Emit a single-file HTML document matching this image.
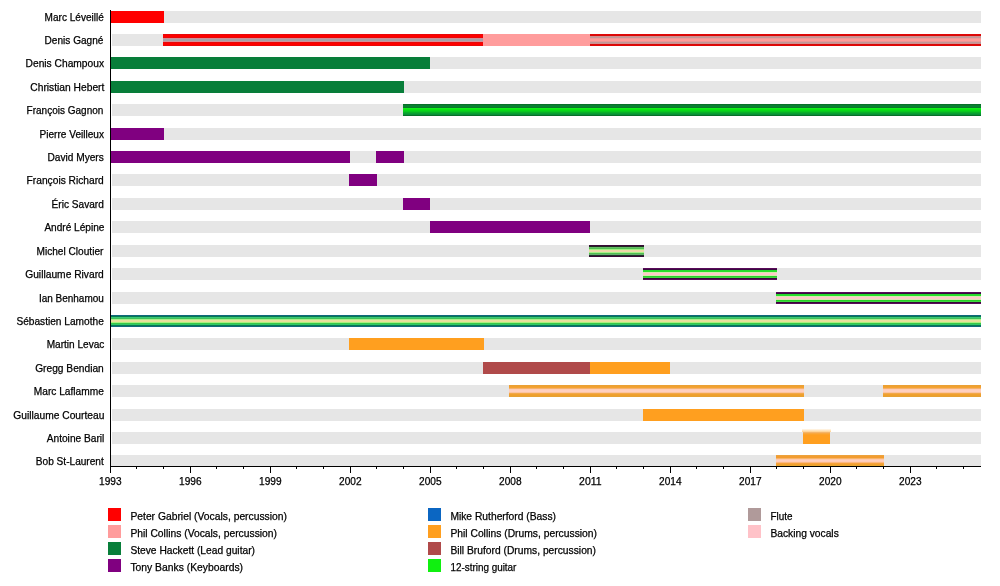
<!DOCTYPE html>
<html><head><meta charset="utf-8"><title>Timeline</title>
<style>
html,body{margin:0;padding:0;background:#fff}
svg{display:block}
text{font-family:"Liberation Sans",sans-serif;font-size:10.5px;fill:#000;stroke:#000;stroke-width:0.25px}
</style></head><body>
<svg width="1000" height="586" viewBox="0 0 1000 586">
<defs><linearGradient id="h19" x1="0" y1="0" x2="0" y2="1"><stop offset="0" stop-color="#fff"/><stop offset="1" stop-color="#ffd08c"/></linearGradient><linearGradient id="g5" x1="0" y1="0" x2="0" y2="1"><stop offset="0" stop-color="#10f010"/><stop offset="0.5" stop-color="#10e818"/><stop offset="1" stop-color="#0a9a34"/></linearGradient></defs>
<rect width="1000" height="586" fill="#fff"/>
<g shape-rendering="crispEdges">
<rect x="112" y="11" width="869" height="12" fill="#e6e6e6"/>
<rect x="112" y="34" width="869" height="12" fill="#e6e6e6"/>
<rect x="112" y="57" width="869" height="12" fill="#e6e6e6"/>
<rect x="112" y="81" width="869" height="12" fill="#e6e6e6"/>
<rect x="112" y="104" width="869" height="12" fill="#e6e6e6"/>
<rect x="112" y="128" width="869" height="12" fill="#e6e6e6"/>
<rect x="112" y="151" width="869" height="12" fill="#e6e6e6"/>
<rect x="112" y="174" width="869" height="12" fill="#e6e6e6"/>
<rect x="112" y="198" width="869" height="12" fill="#e6e6e6"/>
<rect x="112" y="221" width="869" height="12" fill="#e6e6e6"/>
<rect x="112" y="245" width="869" height="12" fill="#e6e6e6"/>
<rect x="112" y="268" width="869" height="12" fill="#e6e6e6"/>
<rect x="112" y="292" width="869" height="12" fill="#e6e6e6"/>
<rect x="112" y="315" width="869" height="12" fill="#e6e6e6"/>
<rect x="112" y="338" width="869" height="12" fill="#e6e6e6"/>
<rect x="112" y="362" width="869" height="12" fill="#e6e6e6"/>
<rect x="112" y="385" width="869" height="12" fill="#e6e6e6"/>
<rect x="112" y="409" width="869" height="12" fill="#e6e6e6"/>
<rect x="112" y="432" width="869" height="12" fill="#e6e6e6"/>
<rect x="111" y="455" width="870" height="11" fill="#e6e6e6"/>
</g><g>
<rect x="110" y="11.0" width="54" height="12" fill="#ff0000"/>
<g shape-rendering="crispEdges">
<rect x="163" y="34" width="320" height="1" fill="#e80808"/>
<rect x="163" y="35" width="320" height="1" fill="#ff0000"/>
<rect x="163" y="36" width="320" height="1" fill="#ff0000"/>
<rect x="163" y="37" width="320" height="1" fill="#e80808"/>
<rect x="163" y="38" width="320" height="1" fill="#d09098"/>
<rect x="163" y="39" width="320" height="1" fill="#a8a0a8"/>
<rect x="163" y="40" width="320" height="1" fill="#a8a0a8"/>
<rect x="163" y="41" width="320" height="1" fill="#d89098"/>
<rect x="163" y="42" width="320" height="1" fill="#e80808"/>
<rect x="163" y="43" width="320" height="1" fill="#ff0000"/>
<rect x="163" y="44" width="320" height="1" fill="#ff0000"/>
<rect x="163" y="45" width="320" height="1" fill="#e80808"/>
</g>
<rect x="483" y="34.0" width="107" height="12" fill="#ff9c9c"/>
<g shape-rendering="crispEdges">
<rect x="590" y="34" width="391" height="1" fill="#e00808"/>
<rect x="590" y="35" width="391" height="1" fill="#d80808"/>
<rect x="590" y="36" width="391" height="1" fill="#d09090"/>
<rect x="590" y="37" width="391" height="1" fill="#c09898"/>
<rect x="590" y="38" width="391" height="1" fill="#f09898"/>
<rect x="590" y="39" width="391" height="1" fill="#ff9c98"/>
<rect x="590" y="40" width="391" height="1" fill="#ff9c98"/>
<rect x="590" y="41" width="391" height="1" fill="#e89898"/>
<rect x="590" y="42" width="391" height="1" fill="#c09898"/>
<rect x="590" y="43" width="391" height="1" fill="#d09090"/>
<rect x="590" y="44" width="391" height="1" fill="#d80808"/>
<rect x="590" y="45" width="391" height="1" fill="#e00808"/>
</g>
<rect x="110" y="57.0" width="320" height="12" fill="#087e3a"/>
<rect x="110" y="81.0" width="294" height="12" fill="#087e3a"/>
<g shape-rendering="crispEdges">
<rect x="403" y="104" width="578" height="1" fill="#087028"/>
<rect x="403" y="105" width="578" height="1" fill="#088030"/>
<rect x="403" y="106" width="578" height="1" fill="#088030"/>
<rect x="403" y="107" width="578" height="1" fill="#087828"/>
<rect x="403" y="108" width="578" height="1" fill="#10f018"/>
<rect x="403" y="109" width="578" height="1" fill="#08e810"/>
<rect x="403" y="110" width="578" height="1" fill="#08d818"/>
<rect x="403" y="111" width="578" height="1" fill="#08c820"/>
<rect x="403" y="112" width="578" height="1" fill="#08b028"/>
<rect x="403" y="113" width="578" height="1" fill="#08a030"/>
<rect x="403" y="114" width="578" height="1" fill="#089038"/>
<rect x="403" y="115" width="578" height="1" fill="#087028"/>
</g>
<rect x="110" y="128.0" width="54" height="12" fill="#800080"/>
<rect x="110" y="151.0" width="240" height="12" fill="#800080"/>
<rect x="376" y="151.0" width="28" height="12" fill="#800080"/>
<rect x="349" y="174.0" width="28" height="12" fill="#800080"/>
<rect x="403" y="198.0" width="27" height="12" fill="#800080"/>
<rect x="430" y="221.0" width="160" height="12" fill="#800080"/>
<g shape-rendering="crispEdges">
<rect x="589" y="245" width="55" height="1" fill="#3a0a38"/>
<rect x="589" y="246" width="55" height="1" fill="#202820"/>
<rect x="589" y="247" width="55" height="1" fill="#68b868"/>
<rect x="589" y="248" width="55" height="1" fill="#50c050"/>
<rect x="589" y="249" width="55" height="1" fill="#a0f080"/>
<rect x="589" y="250" width="55" height="1" fill="#eed8a8"/>
<rect x="589" y="251" width="55" height="1" fill="#eed8a8"/>
<rect x="589" y="252" width="55" height="1" fill="#a8f088"/>
<rect x="589" y="253" width="55" height="1" fill="#50c050"/>
<rect x="589" y="254" width="55" height="1" fill="#68b070"/>
<rect x="589" y="255" width="55" height="1" fill="#203028"/>
<rect x="589" y="256" width="55" height="1" fill="#380a38"/>
</g>
<g shape-rendering="crispEdges">
<rect x="643" y="268" width="134" height="1" fill="#5a0a5a"/>
<rect x="643" y="269" width="134" height="1" fill="#3a0a40"/>
<rect x="643" y="270" width="134" height="1" fill="#28d830"/>
<rect x="643" y="271" width="134" height="1" fill="#28e028"/>
<rect x="643" y="272" width="134" height="1" fill="#d8e8b0"/>
<rect x="643" y="273" width="134" height="1" fill="#ffc8c8"/>
<rect x="643" y="274" width="134" height="1" fill="#ffc8c8"/>
<rect x="643" y="275" width="134" height="1" fill="#d8e8b0"/>
<rect x="643" y="276" width="134" height="1" fill="#28d028"/>
<rect x="643" y="277" width="134" height="1" fill="#40d840"/>
<rect x="643" y="278" width="134" height="1" fill="#38083a"/>
<rect x="643" y="279" width="134" height="1" fill="#5a0a5a"/>
</g>
<g shape-rendering="crispEdges">
<rect x="776" y="292" width="205" height="1" fill="#5a0a5a"/>
<rect x="776" y="293" width="205" height="1" fill="#3a0a40"/>
<rect x="776" y="294" width="205" height="1" fill="#28d830"/>
<rect x="776" y="295" width="205" height="1" fill="#28e028"/>
<rect x="776" y="296" width="205" height="1" fill="#d8e8b0"/>
<rect x="776" y="297" width="205" height="1" fill="#ffc8c8"/>
<rect x="776" y="298" width="205" height="1" fill="#ffc8c8"/>
<rect x="776" y="299" width="205" height="1" fill="#d8e8b0"/>
<rect x="776" y="300" width="205" height="1" fill="#28d028"/>
<rect x="776" y="301" width="205" height="1" fill="#40d840"/>
<rect x="776" y="302" width="205" height="1" fill="#38083a"/>
<rect x="776" y="303" width="205" height="1" fill="#5a0a5a"/>
</g>
<g shape-rendering="crispEdges">
<rect x="110" y="315" width="871" height="1" fill="#10687c"/>
<rect x="110" y="316" width="871" height="1" fill="#087850"/>
<rect x="110" y="317" width="871" height="1" fill="#38c878"/>
<rect x="110" y="318" width="871" height="1" fill="#40c058"/>
<rect x="110" y="319" width="871" height="1" fill="#a8f088"/>
<rect x="110" y="320" width="871" height="1" fill="#e8e0a0"/>
<rect x="110" y="321" width="871" height="1" fill="#e8e098"/>
<rect x="110" y="322" width="871" height="1" fill="#a8f080"/>
<rect x="110" y="323" width="871" height="1" fill="#38c848"/>
<rect x="110" y="324" width="871" height="1" fill="#30c868"/>
<rect x="110" y="325" width="871" height="1" fill="#087850"/>
<rect x="110" y="326" width="871" height="1" fill="#10687c"/>
</g>
<rect x="349" y="338.0" width="135" height="12" fill="#ff9f1f"/>
<rect x="483" y="362.0" width="107" height="12" fill="#b04a4a"/>
<rect x="590" y="362.0" width="80" height="12" fill="#ff9f1f"/>
<g shape-rendering="crispEdges">
<rect x="509" y="385" width="295" height="1" fill="#eaa034"/>
<rect x="509" y="386" width="295" height="1" fill="#f0a030"/>
<rect x="509" y="387" width="295" height="1" fill="#f4a432"/>
<rect x="509" y="388" width="295" height="1" fill="#f6b06c"/>
<rect x="509" y="389" width="295" height="1" fill="#ffccb4"/>
<rect x="509" y="390" width="295" height="1" fill="#ffd0c0"/>
<rect x="509" y="391" width="295" height="1" fill="#ffd0c0"/>
<rect x="509" y="392" width="295" height="1" fill="#fcc4a0"/>
<rect x="509" y="393" width="295" height="1" fill="#f2a848"/>
<rect x="509" y="394" width="295" height="1" fill="#f0a030"/>
<rect x="509" y="395" width="295" height="1" fill="#eca02c"/>
<rect x="509" y="396" width="295" height="1" fill="#e6a034"/>
</g>
<g shape-rendering="crispEdges">
<rect x="883" y="385" width="98" height="1" fill="#eaa034"/>
<rect x="883" y="386" width="98" height="1" fill="#f0a030"/>
<rect x="883" y="387" width="98" height="1" fill="#f4a432"/>
<rect x="883" y="388" width="98" height="1" fill="#f6b06c"/>
<rect x="883" y="389" width="98" height="1" fill="#ffccb4"/>
<rect x="883" y="390" width="98" height="1" fill="#ffd0c0"/>
<rect x="883" y="391" width="98" height="1" fill="#ffd0c0"/>
<rect x="883" y="392" width="98" height="1" fill="#fcc4a0"/>
<rect x="883" y="393" width="98" height="1" fill="#f2a848"/>
<rect x="883" y="394" width="98" height="1" fill="#f0a030"/>
<rect x="883" y="395" width="98" height="1" fill="#eca02c"/>
<rect x="883" y="396" width="98" height="1" fill="#e6a034"/>
</g>
<rect x="643" y="409.0" width="161" height="12" fill="#ff9f1f"/>
<g shape-rendering="crispEdges">
<rect x="803" y="432" width="27" height="1" fill="#f4b468"/>
<rect x="803" y="433" width="27" height="1" fill="#f8a840"/>
<rect x="803" y="434" width="27" height="1" fill="#fca22a"/>
<rect x="803" y="435" width="27" height="1" fill="#ff9f1f"/>
<rect x="803" y="436" width="27" height="1" fill="#ff9f1f"/>
<rect x="803" y="437" width="27" height="1" fill="#ff9f1f"/>
<rect x="803" y="438" width="27" height="1" fill="#ff9f1f"/>
<rect x="803" y="439" width="27" height="1" fill="#ff9f1f"/>
<rect x="803" y="440" width="27" height="1" fill="#ff9f1f"/>
<rect x="803" y="441" width="27" height="1" fill="#ff9f1f"/>
<rect x="803" y="442" width="27" height="1" fill="#ff9f1f"/>
<rect x="803" y="443" width="27" height="1" fill="#ff9f1f"/>
</g>
<g shape-rendering="crispEdges">
<rect x="776" y="455" width="108" height="1" fill="#eca23c"/>
<rect x="776" y="456" width="108" height="1" fill="#f29c30"/>
<rect x="776" y="457" width="108" height="1" fill="#f29c30"/>
<rect x="776" y="458" width="108" height="1" fill="#f8b468"/>
<rect x="776" y="459" width="108" height="1" fill="#ffc8ac"/>
<rect x="776" y="460" width="108" height="1" fill="#ffd0c0"/>
<rect x="776" y="461" width="108" height="1" fill="#ffccb8"/>
<rect x="776" y="462" width="108" height="1" fill="#fcb880"/>
<rect x="776" y="463" width="108" height="1" fill="#f6a23c"/>
<rect x="776" y="464" width="108" height="1" fill="#f0a030"/>
<rect x="776" y="465" width="108" height="1" fill="#eaa630"/>
</g>
<rect x="802" y="428.5" width="29" height="3.5" fill="url(#h19)"/>
</g><g shape-rendering="crispEdges" fill="#000">
<rect x="110" y="10" width="1" height="457"/>
<rect x="110" y="466" width="871" height="1"/>
<rect x="110" y="466" width="1" height="7"/>
<rect x="136" y="466" width="1" height="3"/>
<rect x="163" y="466" width="1" height="3"/>
<rect x="190" y="466" width="1" height="7"/>
<rect x="216" y="466" width="1" height="3"/>
<rect x="243" y="466" width="1" height="3"/>
<rect x="270" y="466" width="1" height="7"/>
<rect x="296" y="466" width="1" height="3"/>
<rect x="323" y="466" width="1" height="3"/>
<rect x="350" y="466" width="1" height="7"/>
<rect x="376" y="466" width="1" height="3"/>
<rect x="403" y="466" width="1" height="3"/>
<rect x="430" y="466" width="1" height="7"/>
<rect x="456" y="466" width="1" height="3"/>
<rect x="483" y="466" width="1" height="3"/>
<rect x="510" y="466" width="1" height="7"/>
<rect x="536" y="466" width="1" height="3"/>
<rect x="563" y="466" width="1" height="3"/>
<rect x="590" y="466" width="1" height="7"/>
<rect x="616" y="466" width="1" height="3"/>
<rect x="643" y="466" width="1" height="3"/>
<rect x="670" y="466" width="1" height="7"/>
<rect x="696" y="466" width="1" height="3"/>
<rect x="723" y="466" width="1" height="3"/>
<rect x="750" y="466" width="1" height="7"/>
<rect x="776" y="466" width="1" height="3"/>
<rect x="803" y="466" width="1" height="3"/>
<rect x="830" y="466" width="1" height="7"/>
<rect x="856" y="466" width="1" height="3"/>
<rect x="883" y="466" width="1" height="3"/>
<rect x="910" y="466" width="1" height="7"/>
<rect x="936" y="466" width="1" height="3"/>
<rect x="963" y="466" width="1" height="3"/>
</g><g>
<text x="44.6" y="21" textLength="59.2" lengthAdjust="spacingAndGlyphs">Marc Léveillé</text>
<text x="44.6" y="44" textLength="58.8" lengthAdjust="spacingAndGlyphs">Denis Gagné</text>
<text x="25.6" y="67" textLength="78.4" lengthAdjust="spacingAndGlyphs">Denis Champoux</text>
<text x="30.3" y="91" textLength="74.1" lengthAdjust="spacingAndGlyphs">Christian Hebert</text>
<text x="26.6" y="114" textLength="76.8" lengthAdjust="spacingAndGlyphs">François Gagnon</text>
<text x="39.5" y="138" textLength="64.5" lengthAdjust="spacingAndGlyphs">Pierre Veilleux</text>
<text x="47.5" y="161" textLength="56.3" lengthAdjust="spacingAndGlyphs">David Myers</text>
<text x="26.6" y="184" textLength="77.2" lengthAdjust="spacingAndGlyphs">François Richard</text>
<text x="51.6" y="208" textLength="52.2" lengthAdjust="spacingAndGlyphs">Éric Savard</text>
<text x="44.4" y="231" textLength="60" lengthAdjust="spacingAndGlyphs">André Lépine</text>
<text x="36.5" y="255" textLength="66.9" lengthAdjust="spacingAndGlyphs">Michel Cloutier</text>
<text x="25.2" y="278" textLength="78.6" lengthAdjust="spacingAndGlyphs">Guillaume Rivard</text>
<text x="38.9" y="302" textLength="64.9" lengthAdjust="spacingAndGlyphs">Ian Benhamou</text>
<text x="16.4" y="325" textLength="87.4" lengthAdjust="spacingAndGlyphs">Sébastien Lamothe</text>
<text x="46.7" y="348" textLength="57.7" lengthAdjust="spacingAndGlyphs">Martin Levac</text>
<text x="35.2" y="372" textLength="68.6" lengthAdjust="spacingAndGlyphs">Gregg Bendian</text>
<text x="33.8" y="395" textLength="70" lengthAdjust="spacingAndGlyphs">Marc Laflamme</text>
<text x="13.3" y="419" textLength="91.1" lengthAdjust="spacingAndGlyphs">Guillaume Courteau</text>
<text x="46.7" y="442" textLength="57.7" lengthAdjust="spacingAndGlyphs">Antoine Baril</text>
<text x="35.8" y="465" textLength="68" lengthAdjust="spacingAndGlyphs">Bob St-Laurent</text>
<text x="99.1" y="485" textLength="22.5" lengthAdjust="spacingAndGlyphs">1993</text>
<text x="179.1" y="485" textLength="22.5" lengthAdjust="spacingAndGlyphs">1996</text>
<text x="259.1" y="485" textLength="22.5" lengthAdjust="spacingAndGlyphs">1999</text>
<text x="339.1" y="485" textLength="22.5" lengthAdjust="spacingAndGlyphs">2002</text>
<text x="419.1" y="485" textLength="22.5" lengthAdjust="spacingAndGlyphs">2005</text>
<text x="499.1" y="485" textLength="22.5" lengthAdjust="spacingAndGlyphs">2008</text>
<text x="579.1" y="485" textLength="22.5" lengthAdjust="spacingAndGlyphs">2011</text>
<text x="659.1" y="485" textLength="22.5" lengthAdjust="spacingAndGlyphs">2014</text>
<text x="739.1" y="485" textLength="22.5" lengthAdjust="spacingAndGlyphs">2017</text>
<text x="819.1" y="485" textLength="22.5" lengthAdjust="spacingAndGlyphs">2020</text>
<text x="899.1" y="485" textLength="22.5" lengthAdjust="spacingAndGlyphs">2023</text>
<rect x="108" y="508" width="13" height="13" fill="#ff0000" shape-rendering="crispEdges"/>
<text x="130.4" y="520" textLength="156.6" lengthAdjust="spacingAndGlyphs">Peter Gabriel (Vocals, percussion)</text>
<rect x="108" y="525" width="13" height="13" fill="#ff9c9c" shape-rendering="crispEdges"/>
<text x="130.4" y="537" textLength="146.6" lengthAdjust="spacingAndGlyphs">Phil Collins (Vocals, percussion)</text>
<rect x="108" y="542" width="13" height="13" fill="#087e3a" shape-rendering="crispEdges"/>
<text x="130.4" y="554" textLength="124.6" lengthAdjust="spacingAndGlyphs">Steve Hackett (Lead guitar)</text>
<rect x="108" y="559" width="13" height="13" fill="#800080" shape-rendering="crispEdges"/>
<text x="130.4" y="571" textLength="112.6" lengthAdjust="spacingAndGlyphs">Tony Banks (Keyboards)</text>
<rect x="428" y="508" width="13" height="13" fill="#0b66c2" shape-rendering="crispEdges"/>
<text x="450.4" y="520" textLength="105.6" lengthAdjust="spacingAndGlyphs">Mike Rutherford (Bass)</text>
<rect x="428" y="525" width="13" height="13" fill="#ff9f1f" shape-rendering="crispEdges"/>
<text x="450.4" y="537" textLength="146.6" lengthAdjust="spacingAndGlyphs">Phil Collins (Drums, percussion)</text>
<rect x="428" y="542" width="13" height="13" fill="#b04a4a" shape-rendering="crispEdges"/>
<text x="450.4" y="554" textLength="145.6" lengthAdjust="spacingAndGlyphs">Bill Bruford (Drums, percussion)</text>
<rect x="428" y="559" width="13" height="13" fill="#10f010" shape-rendering="crispEdges"/>
<text x="450.4" y="571" textLength="66" lengthAdjust="spacingAndGlyphs">12-string guitar</text>
<rect x="748" y="508" width="13" height="13" fill="#b09a9a" shape-rendering="crispEdges"/>
<text x="770.4" y="520" textLength="22" lengthAdjust="spacingAndGlyphs">Flute</text>
<rect x="748" y="525" width="13" height="13" fill="#ffc2c8" shape-rendering="crispEdges"/>
<text x="770.4" y="537" textLength="68.4" lengthAdjust="spacingAndGlyphs">Backing vocals</text>
</g></svg></body></html>
